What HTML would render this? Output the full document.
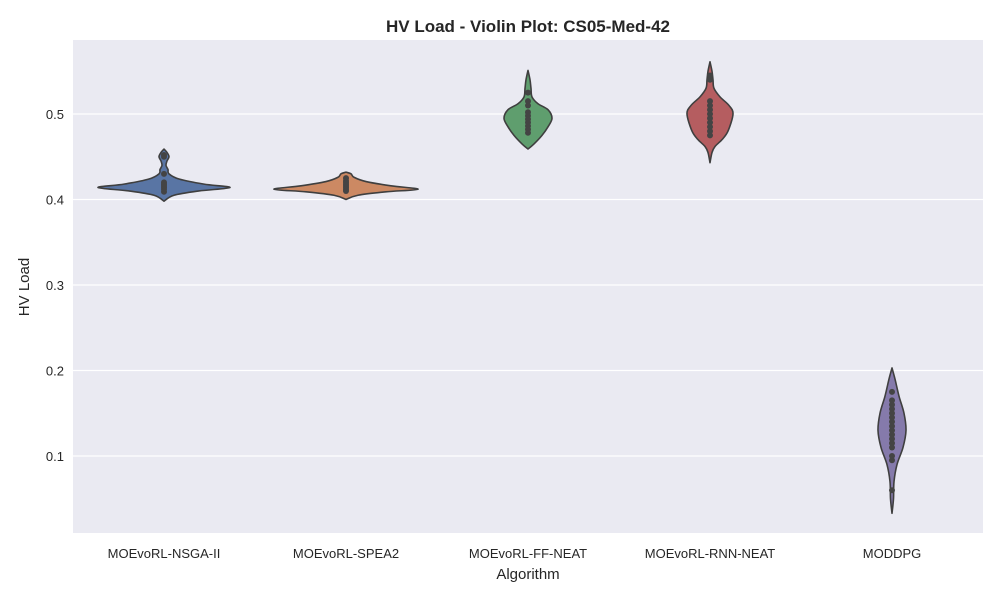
<!DOCTYPE html>
<html><head><meta charset="utf-8"><style>
body{margin:0;background:#fff;font-family:"Liberation Sans","DejaVu Sans",sans-serif}
svg text{font-family:"Liberation Sans","DejaVu Sans",sans-serif;fill:#262626}
</style></head><body>
<svg id="chart" width="1000" height="600" xmlns="http://www.w3.org/2000/svg">
<rect x="0" y="0" width="1000" height="600" fill="#fff"/>
<rect x="73" y="40" width="910" height="493" fill="#eaeaf2"/>
<g id="grid"></g><g id="violins"></g><g id="axes"></g>
<text x="528" y="32" text-anchor="middle" font-size="17" font-weight="bold">HV Load - Violin Plot: CS05-Med-42</text>
<text x="528" y="579" text-anchor="middle" font-size="15">Algorithm</text>
<text transform="translate(29,287) rotate(-90)" text-anchor="middle" font-size="15">HV Load</text>
</svg>
<script>
const categories=["MOEvoRL-NSGA-II","MOEvoRL-SPEA2","MOEvoRL-FF-NEAT","MOEvoRL-RNN-NEAT","MODDPG"];
const yTicks=[0.1,0.2,0.3,0.4,0.5];
const colors=["#5975a4","#cc8963","#5f9e6e","#b55d60","#857aab"];
// density profiles: values and relative density
const profVals=[
 [0.398,0.405,0.41,0.414,0.418,0.424,0.43,0.435,0.44,0.445,0.45,0.455,0.459],
 [0.4,0.405,0.409,0.412,0.416,0.421,0.426,0.43,0.432],
 [0.459,0.465,0.475,0.485,0.495,0.505,0.512,0.52,0.53,0.54,0.551],
 [0.443,0.455,0.462,0.47,0.48,0.5,0.51,0.52,0.53,0.54,0.55,0.561],
 [0.033,0.05,0.07,0.09,0.11,0.13,0.15,0.17,0.19,0.203]
];
const profDens=[
 [0,10,35,66,40,15,5,4,2,3,5,3,0],
 [0,12,40,72,45,20,8,5,0],
 [0,6,14,20,24,20,10,4,3,2,0],
 [0,2,5,12,18,23,19,10,4,3,2,0],
 [0,1.5,2,5,11,14,12,7,3,0]
];
const points=[
 [0.409,0.412,0.414,0.416,0.418,0.42,0.43,0.45,0.452],
 [0.41,0.412,0.414,0.416,0.418,0.42,0.422,0.425],
 [0.478,0.482,0.486,0.49,0.494,0.498,0.502,0.51,0.515,0.525],
 [0.475,0.48,0.485,0.49,0.495,0.5,0.505,0.51,0.515,0.54,0.545],
 [0.06,0.095,0.1,0.11,0.115,0.12,0.125,0.13,0.135,0.14,0.145,0.15,0.155,0.16,0.165,0.175]
];
const NS="http://www.w3.org/2000/svg";
const x0=73,x1=983,step=(x1-x0)/categories.length;
const xc=i=>x0+step*(i+0.5);
const y=v=>114+(0.5-v)*855;
function mk(t,a,p){const e=document.createElementNS(NS,t);for(const k in a)e.setAttribute(k,a[k]);p.appendChild(e);return e;}
function smooth(pts){
 let d='M'+pts[0][0]+','+pts[0][1];
 for(let k=0;k<pts.length-1;k++){
  const p0=pts[k-1]||pts[k],p1=pts[k],p2=pts[k+1],p3=pts[k+2]||p2;
  const c1=[p1[0]+(p2[0]-p0[0])/6,p1[1]+(p2[1]-p0[1])/6];
  const c2=[p2[0]-(p3[0]-p1[0])/6,p2[1]-(p3[1]-p1[1])/6];
  d+='C'+c1[0]+','+c1[1]+' '+c2[0]+','+c2[1]+' '+p2[0]+','+p2[1];
 }
 return d;
}
const grid=document.getElementById('grid'),axes=document.getElementById('axes'),vg=document.getElementById('violins');
yTicks.forEach(t=>{
 const l=mk('line',{x1:x0,x2:x1,y1:y(t),y2:y(t),stroke:'#fff','stroke-width':1.2},grid);
 
 
 const tx=mk('text',{x:x0-9,y:y(t)+5,'text-anchor':'end','font-size':13},axes);
 tx.textContent=t.toFixed(1);
 
 
});
categories.forEach((c,i)=>{
 const tx=mk('text',{x:xc(i),y:558,'text-anchor':'middle','font-size':13},axes);
 tx.textContent=c;
 
 
 const vs=profVals[i],ds=profDens[i];
 const right=vs.map((v,k)=>[xc(i)+ds[k],y(v)]);
 const left=vs.map((v,k)=>[xc(i)-ds[k],y(v)]).reverse();
 const d=smooth(right)+smooth(left).replace(/^M[^C]*/,'')+'Z';
 const p=mk('path',{d:d,fill:colors[i],stroke:'#3f3f3f','stroke-width':1.6,'stroke-linejoin':'round'},vg);
 
 
 points[i].forEach(v=>{
  const ci=mk('circle',{cx:xc(i),cy:y(v),r:3,fill:'#444'},vg);
  
  
 });
});
</script>
</body></html>
